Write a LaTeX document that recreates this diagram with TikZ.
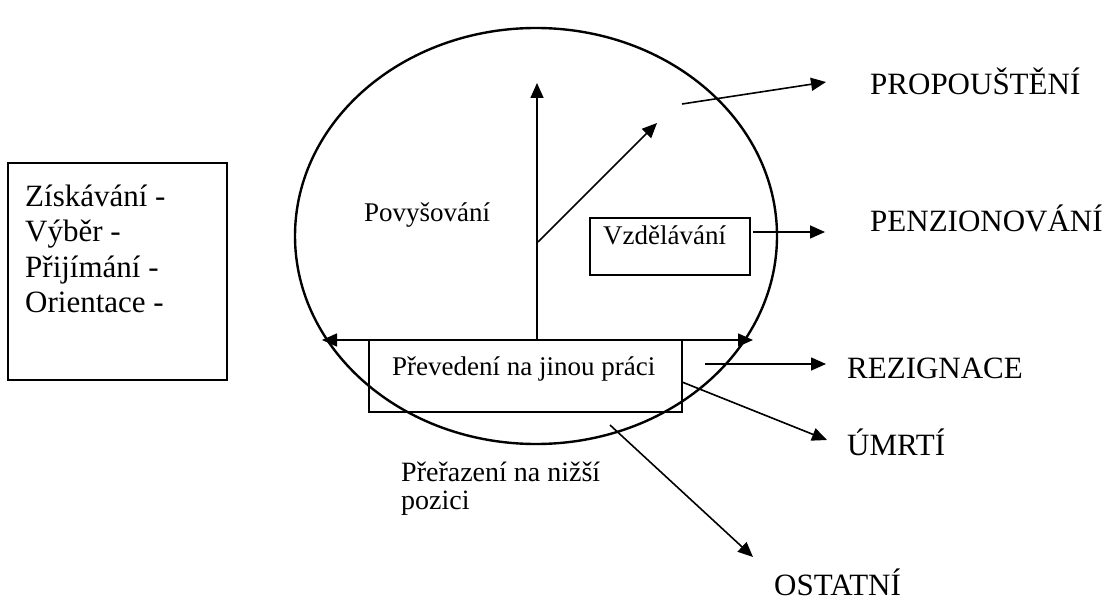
\documentclass[tikz,border=0pt]{standalone}
\usepackage{fontspec}
\setmainfont{Liberation Serif}
\usetikzlibrary{arrows.meta,shapes.geometric}
\begin{document}
\begin{tikzpicture}[x=1pt,y=-1pt,
  tip/.tip={Triangle[length=15pt,width=13pt]},
  arr/.style={line width=1.6pt,-{tip}},
  dbl/.style={line width=1.6pt,{tip}-{tip}},
  boxn/.style={draw,line width=1.5pt,inner sep=0pt,rectangle},
  big/.style={font=\fontsize{31}{35.5}\selectfont,inner sep=0pt,anchor=base west},
  small/.style={font=\fontsize{27}{28}\selectfont,inner sep=0pt,anchor=base west}]
\useasboundingbox (0,0) rectangle (1115,601);
% main ellipse
\node[draw,ellipse,line width=2.4pt,minimum width=482pt,minimum height=416pt,inner sep=0pt] (circ) at (536,236) {};
% boxes
\node[boxn,minimum width=219pt,minimum height=217pt] (zbox) at (117.5,271.5) {};
\node[boxn,minimum width=160pt,minimum height=57pt] (vbox) at (670,246.5) {};
\node[boxn,minimum width=313pt,minimum height=72pt] (pbox) at (525.5,376) {};
% texts (multi-line nodes: base = last line)
\node[big,align=left] (ztext) at (25,312.5) {Získávání -\\Výběr -\\Přijímání -\\Orientace -};
\node[big] (prop) at (870,95) {PROPOUŠTĚNÍ};
\node[big] (penz) at (870,232) {PENZIONOVÁNÍ};
\node[big] (rez) at (847,378) {REZIGNACE};
\node[big] (umrti) at (847,455) {ÚMRTÍ};
\node[big] (ost) at (774,595) {OSTATNÍ};
\node[small] (povys) at (364,222) {Povyšování};
\node[small] (vzd) at (603,245) {Vzdělávání};
\node[small] (prev) at (392,375) {Převedení na jinou práci};
\node[small,font=\fontsize{28}{28}\selectfont,align=left] (preraz) at (401,509) {Přeřazení na nižší\\pozici};
% connector end points
\coordinate (vb) at (537,340);
\coordinate (vt) at (537,83);
\coordinate (db) at (538,242);
\coordinate (dt) at (657,123);
\coordinate (ps) at (682,104);
\coordinate (pt) at (826,82);
\coordinate (zs) at (753,232);
\coordinate (zt) at (825,232);
\coordinate (hl) at (322,340);
\coordinate (hr) at (753,340);
\coordinate (rs) at (705,364);
\coordinate (rt) at (826,364);
\coordinate (us) at (682,382);
\coordinate (ut) at (827,440);
\coordinate (os) at (610,425);
\coordinate (ot) at (753,557);
% connectors
\draw[arr] (vb) -- (vt);
\draw[arr] (db) -- (dt);
\draw[arr] (ps) -- (pt);
\draw[arr] (zs) -- (zt);
\draw[dbl] (hl) -- (hr);
\draw[arr] (rs) -- (rt);
\draw[arr] (us) -- (ut);
\draw[arr] (os) -- (ot);
\end{tikzpicture}
\end{document}
